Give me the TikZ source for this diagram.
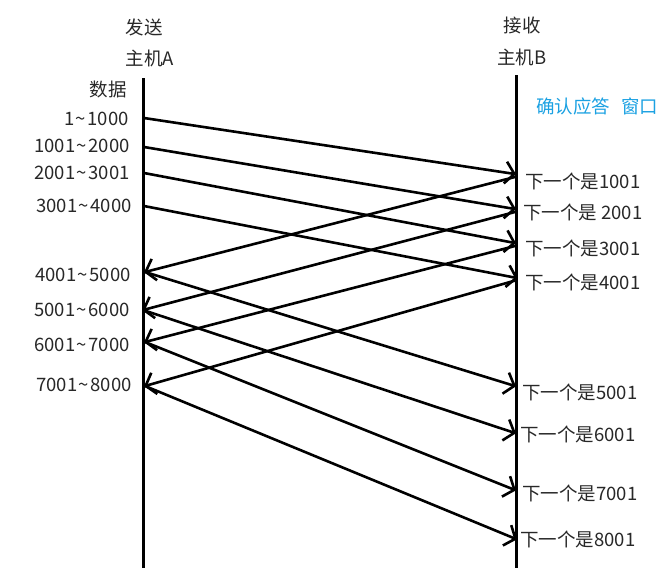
\documentclass[tikz,border=0pt]{standalone}
\usepackage{fontspec}
\setmainfont{Noto Sans CJK SC}
\usetikzlibrary{arrows.meta}
\definecolor{ackblue}{RGB}{27,161,226}
\definecolor{txtgray}{RGB}{40,40,40}
\newcommand{\tld}{\kern1.5pt\textasciitilde\kern1.5pt}
\tikzset{
  timeline/.style={line width=3pt, black},
  msg/.style={line width=2.6pt, black, -{Straight Barb[length=9pt,width=22pt,line width=2.6pt]}, shorten >=-1pt},
  lbl/.style={font=\fontsize{18.5}{22}\selectfont, text=txtgray, inner sep=0pt},
  ack/.style={font=\fontsize{18.5}{22}\selectfont, text=ackblue, inner sep=0pt}
}
\begin{document}
\begin{tikzpicture}[x=1pt,y=-1pt]
\useasboundingbox (0,0) rectangle (669,568);
% timelines
\coordinate (Atop) at (143,78);
\coordinate (Abot) at (143,568);
\coordinate (Btop) at (516,75);
\coordinate (Bbot) at (516,568);
\draw[timeline] (Atop) -- (Abot);
\draw[timeline] (Btop) -- (Bbot);
% headers
\node[lbl] (hA1) at (144,27) {发送};
\node[lbl] (hA2) at (150,58) {主机A};
\node[lbl] (hB1) at (522,25) {接收};
\node[lbl] (hB2) at (522,57) {主机B};
\node[lbl] (data) at (108,89) {数据};
\node[ack, anchor=west] (win) at (536,106) {确认应答\hspace{0.6em}窗口};
% left data labels
\node[lbl, anchor=east] (d1) at (129,119) {1\tld1000};
\node[lbl, anchor=east] (d2) at (130,146) {1001\tld2000};
\node[lbl, anchor=east] (d3) at (130,173) {2001\tld3001};
\node[lbl, anchor=east] (d4) at (132,206) {3001\tld4000};
\node[lbl, anchor=east] (d5) at (131,275) {4001\tld5000};
\node[lbl, anchor=east] (d6) at (130,310) {5001\tld6000};
\node[lbl, anchor=east] (d7) at (130,345) {6001\tld7000};
\node[lbl, anchor=east] (d8) at (132,385) {7001\tld8000};
% right ack labels
\node[lbl, anchor=west] (n1) at (525,181) {下一个是1001};
\node[lbl, anchor=west] (n2) at (523,212) {下一个是 2001};
\node[lbl, anchor=west] (n3) at (525,248) {下一个是3001};
\node[lbl, anchor=west] (n4) at (525,282) {下一个是4001};
\node[lbl, anchor=west] (n5) at (522,392) {下一个是5001};
\node[lbl, anchor=west] (n6) at (520,434) {下一个是6001};
\node[lbl, anchor=west] (n7) at (522,493) {下一个是7001};
\node[lbl, anchor=west] (n8) at (520,539) {下一个是8001};
% endpoints on A
\coordinate (sA1) at (144,118);
\coordinate (sA2) at (144,147);
\coordinate (sA3) at (144,173);
\coordinate (sA4) at (144,206);
\coordinate (rA1) at (145,272);
\coordinate (rA2) at (143,310);
\coordinate (rA3) at (145,342);
\coordinate (rA4) at (145,386);
% endpoints on B
\coordinate (rB1) at (515,174);
\coordinate (rB2) at (515,209);
\coordinate (rB3) at (515,243);
\coordinate (rB4) at (517,278);
\coordinate (sB1) at (515,177);
\coordinate (sB2) at (515,212);
\coordinate (sB3) at (515,246);
\coordinate (sB4) at (517,280);
\coordinate (rB5) at (515,386);
\coordinate (rB6) at (515,433);
\coordinate (rB7) at (515,490);
\coordinate (rB8) at (516,539);
% first window
\draw[msg] (sA1) -- (rB1);
\draw[msg] (sA2) -- (rB2);
\draw[msg] (sA3) -- (rB3);
\draw[msg] (sA4) -- (rB4);
% acks
\draw[msg] (sB1) -- (rA1);
\draw[msg] (sB2) -- (rA2);
\draw[msg] (sB3) -- (rA3);
\draw[msg] (sB4) -- (rA4);
% second window
\draw[msg] (rA1) -- (rB5);
\draw[msg] (rA2) -- (rB6);
\draw[msg] (rA3) -- (rB7);
\draw[msg] (rA4) -- (rB8);
\end{tikzpicture}
\end{document}
